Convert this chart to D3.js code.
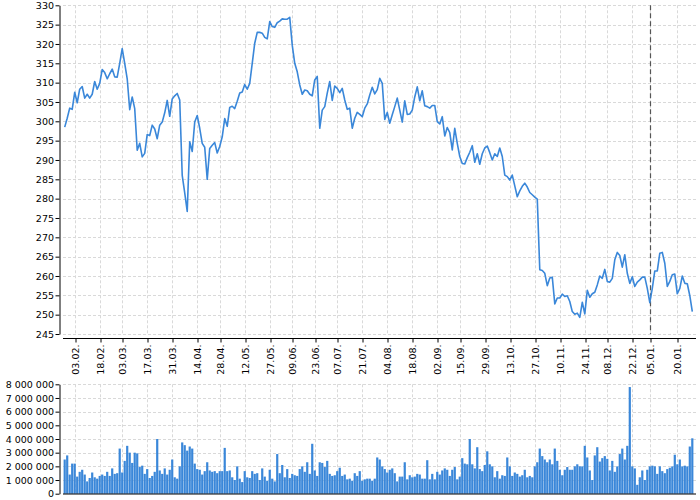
<!DOCTYPE html>
<html><head><meta charset="utf-8">
<script src="https://cdn.jsdelivr.net/npm/d3@7"></script>
<style>
body{margin:0;background:#fff;}
svg text{font-family:"DejaVu Sans",sans-serif;font-size:9.5px;fill:#000;}
</style></head><body>
<svg id="c" width="700" height="500"></svg>
<script>
const price = [
298.5,300.8,303.4,303.1,307.5,304.8,308.3,309.0,306.0,307.0,
306.0,307.0,310.3,308.3,309.8,313.4,312.6,311.0,312.3,313.5,
311.5,311.4,315.0,318.8,315.0,311.0,303.0,306.3,303.3,292.5,
294.3,290.8,291.7,296.6,296.3,299.0,298.0,295.5,299.0,299.8,
302.2,305.4,301.3,305.8,306.6,307.2,305.5,286.0,281.5,276.7,
294.7,292.2,299.8,301.5,298.2,294.3,293.3,285.0,293.0,293.8,
294.5,291.8,293.5,296.0,300.7,298.7,303.6,303.9,303.3,305.2,
307.3,307.6,309.5,308.3,309.8,315.0,320.2,323.0,323.0,322.8,
321.7,321.3,325.8,324.5,324.3,325.5,325.9,326.5,326.4,326.4,
326.9,319.7,315.0,312.8,309.4,307.0,308.1,307.9,307.0,306.6,
310.7,311.6,298.2,302.9,303.8,307.3,310.3,305.4,309.1,308.5,
307.4,308.5,305.5,303.1,303.4,298.2,300.8,302.3,301.8,301.2,
303.4,304.5,306.8,308.8,307.1,308.2,311.1,309.8,300.5,302.3,
299.5,301.7,303.8,306.0,302.9,299.8,305.3,301.8,301.9,302.9,
306.3,308.9,305.3,307.9,304.0,303.8,303.4,304.1,304.1,299.9,
299.3,301.2,296.2,298.4,297.1,292.6,298.2,294.3,290.9,289.1,
289.0,290.6,292.0,293.7,289.4,291.6,288.9,291.6,293.1,293.6,
291.9,290.0,291.6,290.9,293.1,290.9,286.1,285.7,284.8,286.1,
283.3,280.5,282.0,283.2,284.0,283.0,281.6,281.0,280.4,279.9,
261.6,261.4,260.7,257.5,259.5,259.7,252.8,254.3,254.3,255.3,
254.7,254.9,253.4,250.8,250.1,250.4,249.3,253.2,250.2,256.3,
254.5,255.4,255.8,257.7,260.0,259.4,261.7,258.6,258.4,259.4,
264.2,266.1,265.3,262.3,265.5,260.7,258.1,259.8,257.3,258.4,
259.0,259.7,259.7,256.8,253.1,256.8,261.3,261.3,265.9,266.1,
263.3,257.3,258.6,260.3,260.5,255.4,256.8,260.0,258.1,258.0,
254.9,250.8
];
// volume in millions of shares
const volumeM = [
2.5,2.8,1.4,2.2,2.2,1.25,1.6,1.75,1.4,0.9,
1.15,1.55,1.2,1.1,1.3,1.4,1.3,1.6,1.3,1.85,
1.45,1.5,3.3,1.55,2.4,3.5,3.0,2.25,3.0,2.95,
1.95,2.05,1.45,1.8,1.15,1.3,1.6,4.0,1.7,1.45,
1.85,1.4,1.75,2.5,1.2,1.1,2.0,3.75,3.55,3.15,
3.45,3.3,2.2,1.8,1.75,1.4,1.65,2.3,1.7,1.6,
1.65,1.5,1.65,1.65,3.35,1.65,
1.7,1.2,1.0,2.0,1.1,0.85,1.65,1.2,1.15,1.65,
1.45,1.5,1.0,1.85,1.25,0.95,1.75,1.1,0.9,2.9,
1.5,2.1,1.2,1.8,1.15,1.45,1.35,1.3,1.8,2.0,
1.6,2.3,1.45,3.65,1.7,1.3,2.3,2.25,1.95,2.4,
1.45,1.3,1.35,1.65,1.9,1.3,1.4,1.05,1.1,0.95,
1.5,1.3,1.65,0.95,1.05,1.1,1.1,0.95,1.1,2.65,
2.5,2.0,1.8,1.55,1.75,1.85,1.5,0.9,1.25,1.25,
2.3,1.05,1.35,1.2,1.25,1.45,1.4,1.1,1.1,2.45,
1.05,1.45,1.05,1.6,1.4,1.7,1.85,1.75,
1.3,1.75,1.95,1.05,1.25,2.6,2.2,2.15,4.0,2.15,
1.85,3.4,1.8,1.65,2.1,3.1,2.15,2.0,1.2,1.65,
1.1,1.35,1.3,2.65,2.0,1.3,1.55,1.45,1.25,1.35,
1.75,1.2,1.3,1.2,2.0,2.3,3.3,2.75,2.5,2.3,
2.5,2.15,3.3,2.4,1.75,1.35,1.75,1.95,1.75,1.75,
2.0,2.15,2.0,2.0,3.5,2.65,1.7,1.0,2.8,3.4,
2.35,2.6,2.75,2.55,1.7,2.4,1.6,2.0,2.9,3.3,
2.5,3.5,7.8,2.0,1.85,0.65,1.2,1.7,1.0,1.75,
2.0,2.05,2.0,1.45,2.0,1.65,1.5,1.8,1.9,2.0,
2.85,2.15,2.5,2.0,2.05,2.0,3.45,4.05
];
const tickLabels = ["03.02.","18.02.","03.03.","17.03.","31.03.","14.04.","28.04.","12.05.","27.05.","09.06.","23.06.","07.07.","21.07.","04.08.","18.08.","02.09.","15.09.","29.09.","13.10.","27.10.","10.11.","24.11.","08.12.","22.12.","05.01.","20.01."];
const tickIndex = [4,14,23,33,43,53,62,72,82,91,100,109,119,129,139,149,158,168,178,188,198,208,217,227,234,245];
const markerIndex = 234;
const priceTicks = d3.range(245, 331, 5);
const volumeTicks = d3.range(0, 8000001, 1000000);

const svg = d3.select("#c");
const N = price.length;
const x = d3.scaleLinear().domain([0, N - 1]).range([64.7, 692.3]);
const y = d3.scaleLinear().domain([245, 330]).range([334, 5.3]);
const yv = d3.scaleLinear().domain([0, 8000000]).range([493.7, 384.3]);
const gridL = 63, gridR = 696;
const gridColor = "#d9d9d9";

// ---- price grid
const g1 = svg.append("g");
g1.selectAll("line.hg").data(priceTicks).join("line")
  .attr("x1", gridL).attr("x2", gridR)
  .attr("y1", d => Math.round(y(d)) + 0.5).attr("y2", d => Math.round(y(d)) + 0.5)
  .attr("stroke", gridColor).attr("stroke-dasharray", "3,2");
g1.selectAll("line.vg").data(tickIndex).join("line")
  .attr("x1", d => Math.round(x(d)) + 0.5).attr("x2", d => Math.round(x(d)) + 0.5)
  .attr("y1", y(330)).attr("y2", y(245))
  .attr("stroke", gridColor).attr("stroke-dasharray", "3,2");

// marker dashed line
g1.append("line")
  .attr("x1", Math.round(x(markerIndex)) + 0.5).attr("x2", Math.round(x(markerIndex)) + 0.5)
  .attr("y1", y(330)).attr("y2", y(245))
  .attr("stroke", "#555").attr("stroke-width", 1.2).attr("stroke-dasharray", "5,3");

// price line
g1.append("path").datum(price)
  .attr("fill", "none").attr("stroke", "#3a87d9").attr("stroke-width", 1.6)
  .attr("stroke-linejoin", "round")
  .attr("d", d3.line().x((d, i) => x(i)).y(d => y(d)));

// y axis price
const ya = svg.append("g").attr("transform", "translate(59.5,0)")
  .call(d3.axisLeft(y).tickValues(priceTicks).tickSize(4).tickSizeOuter(0).tickPadding(1.5));
ya.selectAll("text").attr("fill", "#000");
ya.select(".domain").attr("stroke", "#000");

// x axis
const xa = svg.append("g").attr("transform", "translate(0,338.5)")
  .call(d3.axisBottom(x).tickValues(tickIndex).tickFormat((d, i) => tickLabels[i]).tickSize(4).tickSizeOuter(0));
xa.select(".domain").remove();
xa.append("line").attr("x1", gridL).attr("x2", gridR).attr("y1", 0).attr("y2", 0).attr("stroke", "#000");
xa.selectAll(".tick line").attr("transform", d => `translate(${Math.round(x(d)) + 0.5 - x(d)},0)`);
xa.selectAll(".tick text")
  .attr("transform", "rotate(-90)")
  .attr("text-anchor", "end")
  .attr("x", -6).attr("y", 0).attr("dy", "0.35em")
  .attr("fill", "#000");

// ---- volume panel
const g2 = svg.append("g");
g2.selectAll("line.hg").data(volumeTicks.slice(1)).join("line")
  .attr("x1", gridL).attr("x2", gridR)
  .attr("y1", d => Math.round(yv(d)) + 0.5).attr("y2", d => Math.round(yv(d)) + 0.5)
  .attr("stroke", gridColor).attr("stroke-dasharray", "3,2");
g2.selectAll("line.vg").data(tickIndex).join("line")
  .attr("x1", d => Math.round(x(d)) + 0.5).attr("x2", d => Math.round(x(d)) + 0.5)
  .attr("y1", yv(8000000)).attr("y2", yv(0))
  .attr("stroke", gridColor).attr("stroke-dasharray", "3,2");

g2.selectAll("rect").data(volumeM).join("rect")
  .attr("x", (d, i) => x(i) - 1.1).attr("width", 2.2)
  .attr("y", d => yv(d * 1e6)).attr("height", d => yv(0) - yv(d * 1e6))
  .attr("fill", "#3a87d9");

const loc = d3.formatLocale({decimal: ",", thousands: " ", grouping: [3], currency: ["", ""]});
const fmt = loc.format(",d");
const yva = svg.append("g").attr("transform", "translate(59.5,0)")
  .call(d3.axisLeft(yv).tickValues(volumeTicks).tickFormat(fmt).tickSize(4).tickSizeOuter(0).tickPadding(1.5));
yva.selectAll("text").attr("fill", "#000");
svg.append("line").attr("x1", gridL).attr("x2", gridR).attr("y1", 494).attr("y2", 494).attr("stroke", "#000");
</script>
</body></html>
